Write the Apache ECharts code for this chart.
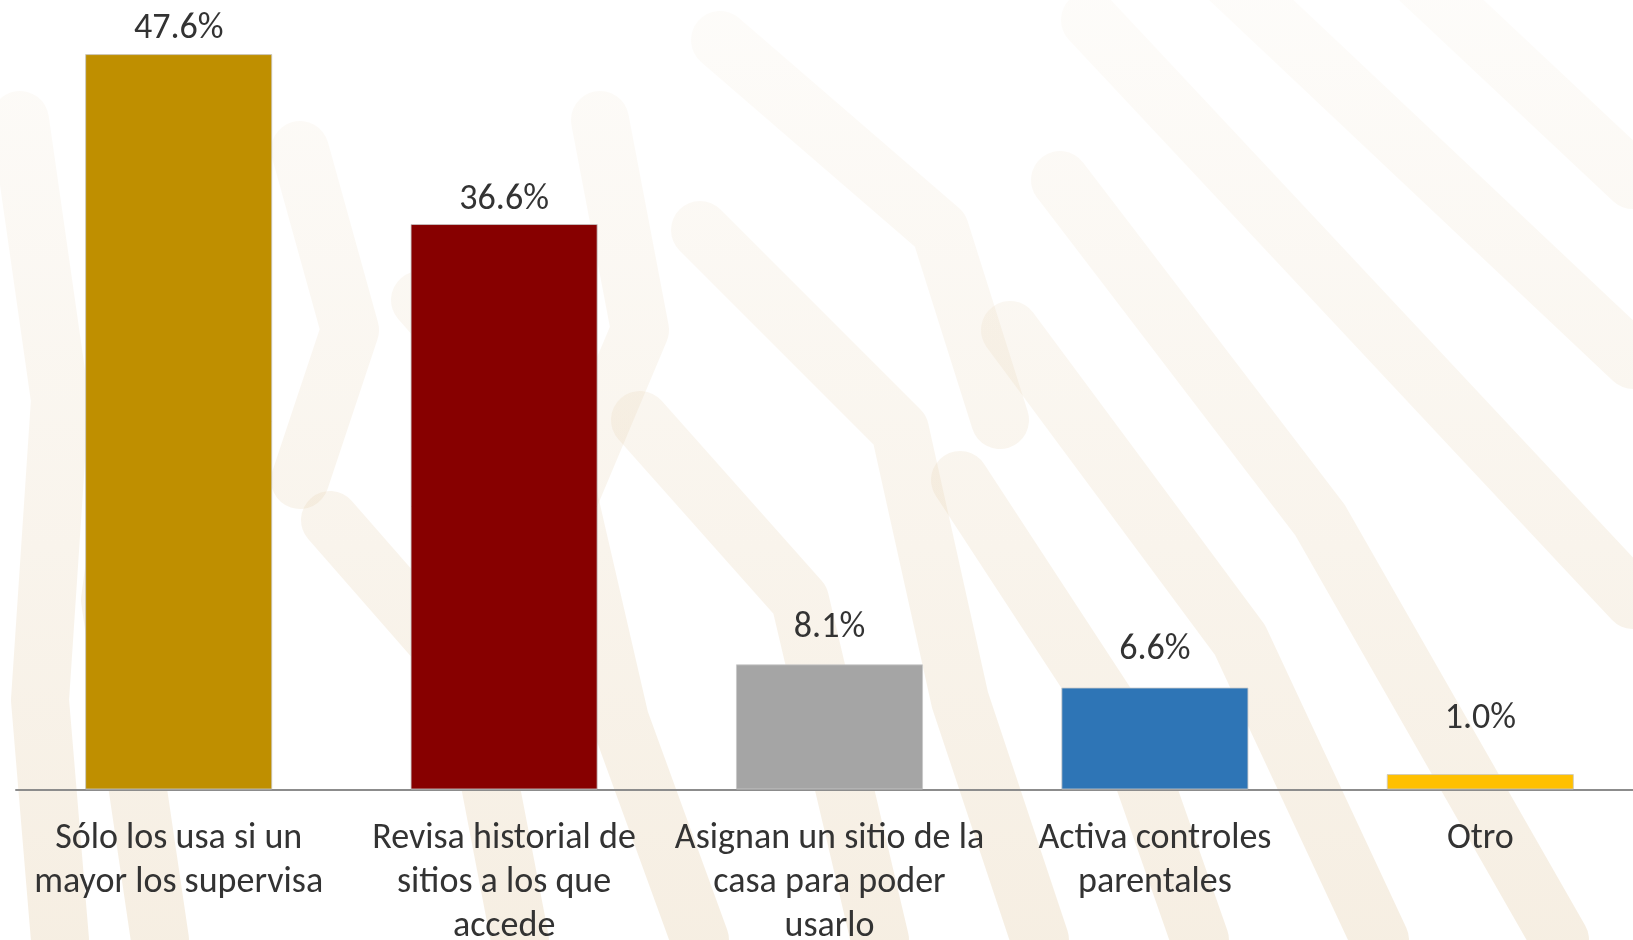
<!DOCTYPE html>
<html>
<head>
<meta charset="utf-8">
<script src="https://cdn.jsdelivr.net/npm/echarts@6/dist/echarts.min.js"></script>
<style>
  html, body { margin: 0; padding: 0; background: #ffffff; overflow: hidden; }
  #chart { width: 1633px; height: 940px; }
</style>
</head>
<body>
<div id="chart"></div>
<script>
// chart data
const categories = [
  "Sólo los usa si un\nmayor los supervisa",
  "Revisa historial de\nsitios a los que\naccede",
  "Asignan un sitio de la\ncasa para poder\nusarlo",
  "Activa controles\nparentales",
  "Otro"
];
const values = [47.6, 36.6, 8.1, 6.6, 1.0];
const barColors = ["#bf8f00", "#870000", "#a5a5a5", "#2e75b6", "#ffc000"];
// gap between each bar and its value label (the source places them unevenly)
const labelGaps = [7, 6, 18, 20, 37];

const font = '"Carlito", "Liberation Sans Narrow", "DejaVu Sans Condensed", sans-serif';

// faint decorative stripes in the background (watermark look)
function stripe(points) {
  return {
    type: "polyline",
    silent: true,
    z: -10,
    shape: { points: points },
    style: {
      fill: null,
      lineWidth: 58,
      lineCap: "round",
      lineJoin: "round",
      stroke: {
        type: "linear", global: true, x: 0, y: 0, x2: 0, y2: 940,
        colorStops: [
          { offset: 0, color: "rgba(225,200,160,0.06)" },
          { offset: 1, color: "rgba(225,200,160,0.3)" }
        ]
      }
    }
  };
}

const decor = [
  stripe([[1090, 20], [1633, 600]]),
  stripe([[1230, -20], [1633, 360]]),
  stripe([[1420, -20], [1633, 180]]),
  stripe([[1060, 180], [1320, 520], [1560, 940]]),
  stripe([[1010, 330], [1240, 640], [1380, 940]]),
  stripe([[960, 480], [1130, 740], [1200, 940]]),
  stripe([[720, 40], [940, 230], [1000, 420]]),
  stripe([[700, 230], [900, 430], [960, 700], [1040, 940]]),
  stripe([[640, 420], [800, 600], [880, 940]]),
  stripe([[420, 300], [560, 460], [620, 720], [700, 940]]),
  stripe([[330, 520], [470, 680], [520, 940]]),
  stripe([[20, 120], [60, 400], [40, 700], [60, 940]]),
  stripe([[150, 300], [110, 600], [160, 940]]),
  stripe([[300, 150], [350, 330], [300, 480]]),
  stripe([[600, 120], [640, 330], [560, 520]])
];

const chart = echarts.init(document.getElementById("chart"));

const option = {
  backgroundColor: "#ffffff",
  animation: false,
  graphic: decor,
  grid: {
    left: 16, width: 1627, top: 17, height: 772.5,
    outerBoundsMode: "none", containLabel: false
  },
  xAxis: {
    type: "category",
    data: categories,
    axisLine: { lineStyle: { color: "#8c8c8c", width: 2 } },
    axisTick: { show: false },
    axisLabel: {
      interval: 0,
      margin: 27,
      color: "#333333",
      fontFamily: font,
      fontSize: 36,
      lineHeight: 44
    }
  },
  yAxis: {
    type: "value",
    min: 0,
    max: 50,
    show: false,
    splitLine: { show: false }
  },
  series: [
    {
      type: "bar",
      barWidth: "57.5%",
      data: values.map(function (v, i) {
        return {
          value: v,
          itemStyle: { color: barColors[i] },
          label: { distance: labelGaps[i] }
        };
      }),
      itemStyle: { borderColor: "rgba(200,200,200,0.8)", borderWidth: 1 },
      label: {
        show: true,
        position: "top",
        color: "#333333",
        fontFamily: font,
        fontSize: 36,
        formatter: function (p) {
          return p.value.toFixed(1) + "%";
        }
      }
    }
  ]
};

chart.setOption(option);
</script>
</body>
</html>
